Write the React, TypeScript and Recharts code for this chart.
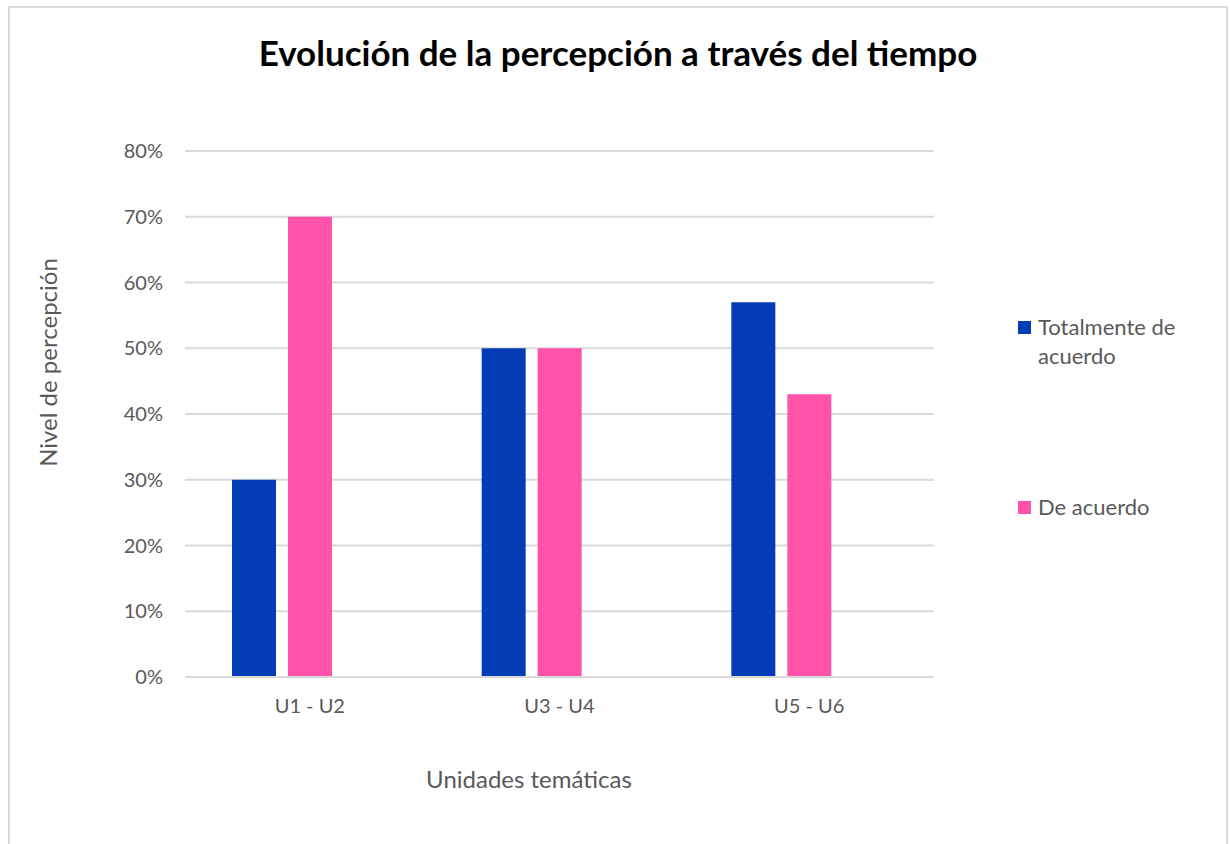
import { BarChart, Bar, XAxis, YAxis, CartesianGrid } from 'recharts';

const categories = ['U1 - U2', 'U3 - U4', 'U5 - U6'];
const totalmente = [0.3, 0.5, 0.57];
const deAcuerdo = [0.7, 0.5, 0.43];
// third series in the source workbook, empty, keeps the bars off-centre
const otro = [0, 0, 0];
const yTicks = [0, 0.1, 0.2, 0.3, 0.4, 0.5, 0.6, 0.7, 0.8];

const data = categories.map((c, i) => ({
  name: c,
  totalmente: totalmente[i],
  deAcuerdo: deAcuerdo[i],
  otro: otro[i],
}));

const FONT = 'Lato, "Open Sans", sans-serif';
const GREY = '#595959';
const BLUE = '#043CB8';
const PINK = '#FF52A8';

const legendItems = [
  { label: ['Totalmente de', 'acuerdo'], color: BLUE, top: 304 },
  { label: ['De acuerdo'], color: PINK, top: 484 },
];

function LegendBox() {
  return (
    <>
      {legendItems.map((it) => (
        <div key={it.color} style={{ position: 'absolute', left: 1008, top: it.top, display: 'flex', width: 200 }}>
          <span style={{ width: 13, height: 13, background: it.color, marginTop: 9, marginRight: 7, flexShrink: 0 }} />
          <span style={{ fontSize: 22, lineHeight: '29px', color: GREY, fontFamily: FONT }}>
            {it.label.map((l) => (
              <div key={l}>{l}</div>
            ))}
          </span>
        </div>
      ))}
    </>
  );
}

export default function App() {
  return (
    <div
      style={{
        position: 'absolute',
        left: 8,
        top: 6,
        width: 1216,
        height: 850,
        border: '2px solid #d9d9d9',
        borderBottom: 'none',
        background: '#fff',
        fontFamily: FONT,
        overflow: 'hidden',
      }}
    >
      <div
        style={{
          position: 'absolute',
          left: 0,
          width: 1216,
          top: 23,
          textAlign: 'center',
          fontSize: 35,
          lineHeight: '42px',
          fontWeight: 700,
          color: '#000',
        }}
      >
        Evolución de la percepción a través del tiempo
      </div>
      <div
        style={{
          position: 'absolute',
          left: 37 - 200,
          top: 354 - 14,
          width: 400,
          textAlign: 'center',
          fontSize: 24,
          lineHeight: '29px',
          color: GREY,
          transform: 'rotate(-90deg)',
        }}
      >
        Nivel de percepción
      </div>
      <div
        style={{
          position: 'absolute',
          left: 519 - 200,
          top: 756,
          width: 400,
          textAlign: 'center',
          fontSize: 24,
          lineHeight: '29px',
          color: GREY,
        }}
      >
        Unidades temáticas
      </div>
      <BarChart
        width={1216}
        height={840}
        data={data}
        margin={{ top: 143, right: 292, left: 58, bottom: 131 }}
        barCategoryGap={47}
        barGap={12}
      >
        <CartesianGrid vertical={false} stroke="#d9d9d9" strokeWidth={2} />
        <XAxis
          dataKey="name"
          axisLine={{ stroke: '#d9d9d9', strokeWidth: 2 }}
          tickLine={false}
          tick={{ fontSize: 20, fill: GREY, fontFamily: FONT }}
          height={40}
          dy={14}
        />
        <YAxis
          width={117}
          domain={[0, 0.8]}
          ticks={yTicks}
          axisLine={false}
          tickLine={false}
          tick={{ fontSize: 20, fill: GREY, fontFamily: FONT }}
          tickFormatter={(v) => `${Math.round(v * 100)}%`}
          dx={-14}
        />
        <Bar dataKey="totalmente" name="Totalmente de acuerdo" fill={BLUE} isAnimationActive={false} />
        <Bar dataKey="deAcuerdo" name="De acuerdo" fill={PINK} isAnimationActive={false} />
        <Bar dataKey="otro" name="" fill="#A5A5A5" legendType="none" isAnimationActive={false} />
      </BarChart>
      <LegendBox />
    </div>
  );
}
